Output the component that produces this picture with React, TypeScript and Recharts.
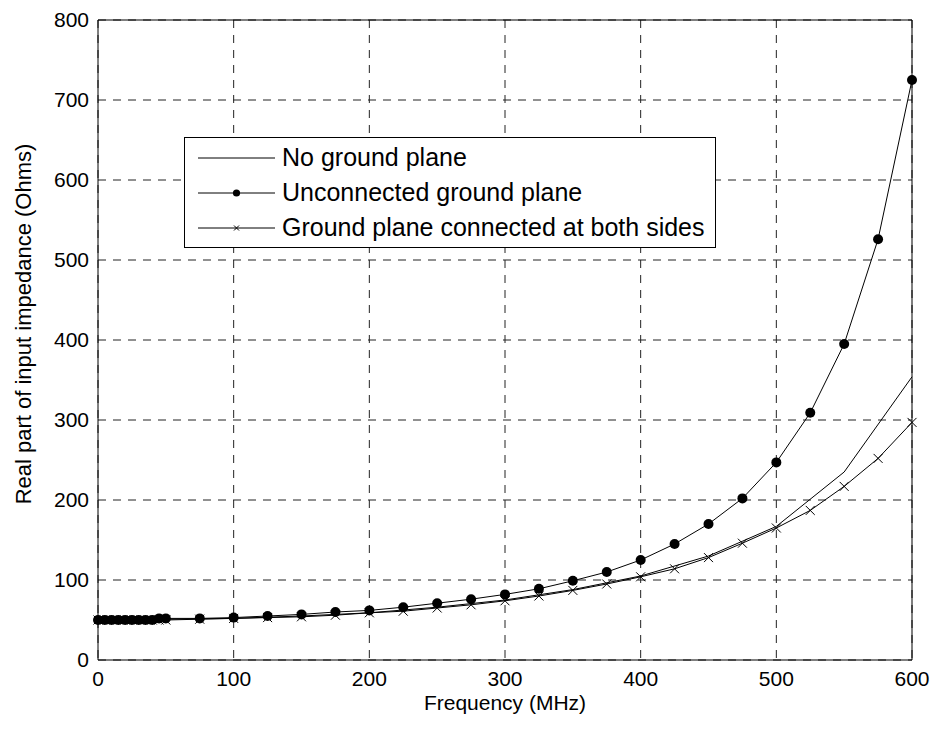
import { LineChart, Line, XAxis, YAxis, CartesianGrid, ReferenceLine, Legend } from 'recharts';

// frequency points (MHz)
const freqDense = [0, 5, 10, 15, 20, 25, 30, 35, 40, 45, 50, 75, 100, 125, 150, 175, 200, 225, 250, 275, 300, 325, 350, 375, 400, 425, 450, 475, 500, 525, 550, 575, 600];
const freqCoarse = [0, 50, 100, 150, 200, 250, 300, 350, 400, 450, 500, 550, 600];

// real part of input impedance (Ohms)
const noGround = [50, 51, 52, 55, 59, 66, 75, 88, 105, 130, 167, 235, 354];
const unconnected = [50, 50, 50, 50, 50, 50, 50, 50, 50, 52, 52, 52, 53, 55, 57, 60, 62, 66, 71, 76, 82, 89, 99, 110, 125, 145, 170, 202, 247, 309, 395, 526, 725];
const bothSides = [50, 50, 50, 50, 50, 50, 50, 50, 50, 50, 50, 51, 52, 53, 54, 56, 59, 61, 65, 69, 74, 80, 87, 95, 104, 114, 128, 146, 165, 187, 217, 252, 297];

const seriesNames = ['No ground plane', 'Unconnected ground plane', 'Ground plane connected at both sides'];
const seriesMarkers = ['none', 'dot', 'cross'];

const xTicks = [0, 100, 200, 300, 400, 500, 600];
const yTicks = [0, 100, 200, 300, 400, 500, 600, 700, 800];

const noGroundData = freqCoarse.map((f, i) => ({ f, z: noGround[i] }));
const unconnectedData = freqDense.map((f, i) => ({ f, z: unconnected[i] }));
const bothSidesData = freqDense.map((f, i) => ({ f, z: bothSides[i] }));

const FONT = "'Liberation Sans', Arial, Helvetica, sans-serif";

const CrossDot = (props: any) => {
  const { cx, cy, index } = props;
  if (cx == null || cy == null) return null;
  const s = 4.5;
  return (
    <path
      key={`x-${index}`}
      d={`M${cx - s},${cy - s}L${cx + s},${cy + s}M${cx - s},${cy + s}L${cx + s},${cy - s}`}
      stroke="#000"
      strokeWidth={1}
      fill="none"
    />
  );
};

// legend drawn in the order the reference lists the series
const LegendBox = () => (
  <div style={{ border: '1px solid #000', background: '#fff', padding: '2px 0 2px 13px', fontFamily: FONT, fontSize: 25, lineHeight: 1 }}>
    {seriesNames.map((name, i) => (
      <div key={name} style={{ display: 'flex', alignItems: 'center', height: 35 }}>
        <svg width={77} height={16} style={{ marginRight: 7, flex: 'none' }}>
          <line x1={0} y1={8} x2={77} y2={8} stroke="#000" strokeWidth={1} />
          {seriesMarkers[i] === 'dot' && <circle cx={38.5} cy={8} r={3.6} fill="#000" />}
          {seriesMarkers[i] === 'cross' && <path d="M36,5.5L41,10.5M36,10.5L41,5.5" stroke="#000" strokeWidth={1} />}
        </svg>
        <span style={{ whiteSpace: 'nowrap' }}>{name}</span>
      </div>
    ))}
  </div>
);

export default function App() {
  return (
    <div style={{ position: 'absolute', left: 0, top: 0, width: 938, height: 729, background: '#fff' }}>
      <LineChart width={938} height={729} margin={{ top: 20, right: 26, bottom: 0, left: 0 }}>
        <CartesianGrid stroke="#222" strokeDasharray="8 7" />
        <XAxis
          type="number"
          dataKey="f"
          domain={[0, 600]}
          ticks={xTicks}
          height={69}
          tickLine={false}
          tickSize={6}
          tickMargin={5}
          axisLine={{ stroke: '#000' }}
          tick={{ fill: '#000', fontSize: 21, fontFamily: FONT }}
          allowDuplicatedCategory={false}
          label={{
            content: (p: any) => {
              const vb = p.viewBox;
              return (
                <text x={vb.x + vb.width / 2} y={vb.y + 42} textAnchor="middle" dominantBaseline="central" fontSize={21} fontFamily={FONT} fill="#000">
                  Frequency (MHz)
                </text>
              );
            },
          }}
        />
        <YAxis
          type="number"
          domain={[0, 800]}
          ticks={yTicks}
          width={98}
          tickLine={false}
          tickSize={5}
          tickMargin={4}
          axisLine={{ stroke: '#000' }}
          tick={{ fill: '#000', fontSize: 21, fontFamily: FONT }}
          label={{
            content: (p: any) => {
              const vb = p.viewBox;
              const cx = vb.x + 23;
              const cy = vb.y + vb.height / 2 - 16;
              return (
                <text x={cx} y={cy} transform={`rotate(-90 ${cx} ${cy})`} textAnchor="middle" dominantBaseline="central" fontSize={22} fontFamily={FONT} fill="#000">
                  Real part of input impedance (Ohms)
                </text>
              );
            },
          }}
        />
        <ReferenceLine y={800} stroke="#000" />
        <ReferenceLine x={600} stroke="#000" />
        <Legend
          layout="vertical"
          align="center"
          verticalAlign="middle"
          width={532}
          wrapperStyle={{ left: 184, top: 137, width: 532 }}
          content={<LegendBox />}
        />
        <Line data={noGroundData} dataKey="z" name={seriesNames[0]} stroke="#000" strokeWidth={1} dot={false} isAnimationActive={false} />
        <Line
          data={unconnectedData}
          dataKey="z"
          name={seriesNames[1]}
          stroke="#000"
          strokeWidth={1}
          dot={{ r: 5, fill: '#000', stroke: 'none' }}
          isAnimationActive={false}
        />
        <Line
          data={bothSidesData}
          dataKey="z"
          name={seriesNames[2]}
          stroke="#000"
          strokeWidth={1}
          dot={CrossDot}
          isAnimationActive={false}
        />
      </LineChart>
    </div>
  );
}
